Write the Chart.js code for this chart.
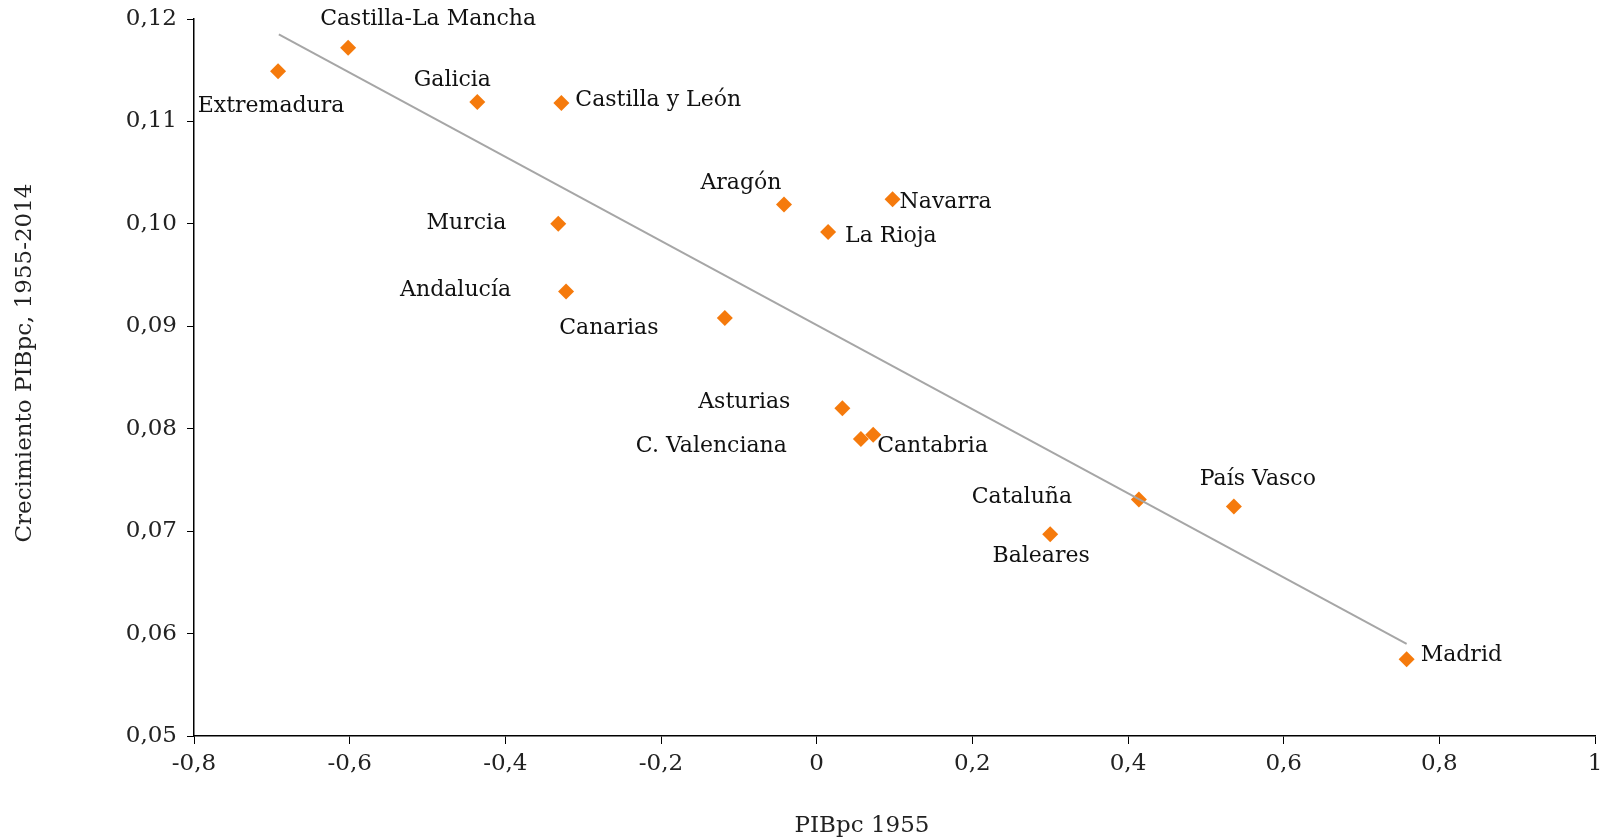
<!DOCTYPE html>
<html>
<head>
<meta charset="utf-8">
<script src="https://cdn.jsdelivr.net/npm/chart.js@4/dist/chart.umd.min.js"></script>
<style>
  html, body { margin: 0; padding: 0; background: #fff; }
  #wrap { width: 1603px; height: 840px; }
</style>
</head>
<body>
<div id="wrap"><canvas id="chart"></canvas></div>
<script>
const regiones = ['Extremadura', 'Castilla-La Mancha', 'Galicia', 'Castilla y León', 'Aragón', 'Navarra',
  'La Rioja', 'Murcia', 'Andalucía', 'Canarias', 'Asturias', 'C. Valenciana', 'Cantabria',
  'Cataluña', 'País Vasco', 'Baleares', 'Madrid'];
const pib1955 = [-0.692, -0.602, -0.436, -0.328, -0.042, 0.0975, 0.0147, -0.332, -0.322, -0.118,
  0.033, 0.0568, 0.0726, 0.414, 0.536, 0.300, 0.758];
const crecimiento = [0.1149, 0.1172, 0.1119, 0.1118, 0.1019, 0.1024, 0.0992, 0.1000, 0.0934, 0.0908,
  0.0820, 0.0790, 0.0794, 0.0731, 0.0724, 0.0697, 0.0575];

// linea de tendencia (extremos)
const tendenciaX = [-0.691, 0.758];
const tendenciaY = [0.1185, 0.0590];

const xTickLabels = ['-0,8', '-0,6', '-0,4', '-0,2', '0', '0,2', '0,4', '0,6', '0,8', '1'];
const yTickLabels = ['0,05', '0,06', '0,07', '0,08', '0,09', '0,10', '0,11', '0,12'];
const xTitulo = 'PIBpc 1955';
const yTitulo = 'Crecimiento PIBpc, 1955-2014';

// donde va cada etiqueta respecto a su punto: [align, dx, dy]
const labelPos = [
  ['center', -7, 35], ['center', 80, -28], ['center', -25, -22], ['left', 14, -3],
  ['center', -43, -21], ['left', 7, 3], ['left', 17, 4], ['right', -52, -1],
  ['right', -55, -1], ['center', -116, 10], ['right', -52, -6], ['right', -74, 7],
  ['left', 4, 11], ['center', -117, -2], ['center', 24, -27], ['center', -9, 22],
  ['left', 14, -4]
];

const serif = '"DejaVu Serif", "Liberation Serif", serif';

const etiquetas = {
  id: 'etiquetas',
  afterDatasetsDraw(chart) {
    const meta = chart.getDatasetMeta(1);
    const c = chart.ctx;
    c.save();
    c.font = '22px ' + serif;
    c.fillStyle = '#111';
    c.textBaseline = 'middle';
    meta.data.forEach((pt, i) => {
      const [align, dx, dy] = labelPos[i];
      c.textAlign = align;
      c.fillText(regiones[i], pt.x + dx, pt.y + dy);
    });
    // titulos de ejes (no van centrados en el area del grafico en el original)
    c.font = '23px ' + serif;
    c.fillStyle = '#222';
    c.textAlign = 'center';
    c.fillText(xTitulo, 862, 826);
    c.translate(25, 363);
    c.rotate(-Math.PI / 2);
    c.fillText(yTitulo, 0, 0);
    c.restore();
  }
};

new Chart(document.getElementById('chart'), {
  type: 'scatter',
  data: {
    datasets: [{
      label: 'Tendencia',
      data: tendenciaX.map((x, i) => ({x: x, y: tendenciaY[i]})),
      showLine: true,
      borderColor: '#a6a6a6',
      borderWidth: 2,
      pointRadius: 0
    }, {
      label: 'Regiones',
      data: pib1955.map((x, i) => ({x: x, y: crecimiento[i]})),
      pointStyle: 'rectRot',
      pointRadius: 8,
      pointBackgroundColor: '#f57a0c',
      pointBorderColor: '#f57a0c',
      pointBorderWidth: 0
    }]
  },
  plugins: [etiquetas],
  options: {
    responsive: true,
    maintainAspectRatio: false,
    animation: false,
    layout: { padding: { top: 19, right: 8, left: 0, bottom: 0 } },
    plugins: { legend: { display: false }, tooltip: { enabled: false } },
    scales: {
      x: {
        type: 'linear',
        min: -0.8, max: 1,
        afterFit: (s) => { s.height = 104; s.paddingRight = 0; },
        border: { color: '#000', width: 1.5 },
        grid: { drawOnChartArea: false, color: '#000', tickLength: 8 },
        ticks: {
          stepSize: 0.2,
          padding: 6,
          color: '#222',
          font: { family: serif, size: 23 },
          callback: (v, i) => xTickLabels[i]
        }
      },
      y: {
        type: 'linear',
        min: 0.05, max: 0.12,
        afterFit: (s) => { s.width = 194; s.paddingTop = 0; s.paddingBottom = 0; },
        border: { color: '#000', width: 1.5 },
        grid: { drawOnChartArea: false, color: '#000', tickLength: 7 },
        ticks: {
          stepSize: 0.01,
          padding: 10,
          color: '#222',
          font: { family: serif, size: 23 },
          callback: (v, i) => yTickLabels[i]
        }
      }
    }
  }
});
</script>
</body>
</html>
